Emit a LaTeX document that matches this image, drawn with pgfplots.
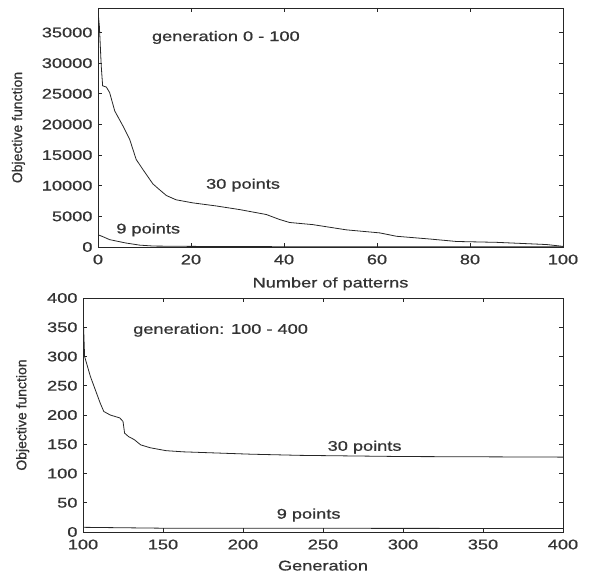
\documentclass[border=0pt]{standalone}
\usepackage{pgfplots}
\pgfplotsset{compat=1.18}
\usepackage{fontspec}
\setmainfont{Liberation Sans}[FakeStretch=1.3, FakeBold=0.8]
\newfontfamily\ylfont{Liberation Sans}[FakeBold=0.8]
\tikzset{curve/.style={black!85, line width=0.8pt}}
\begin{document}
\begin{tikzpicture}
\path (0pt,0pt) rectangle (594pt,573pt);
\pgfplotsset{
  every axis/.append style={
    scale only axis,
    anchor=south west,
    font=\fontsize{14}{16}\selectfont,
    tick align=inside,
    major tick length=4pt,
    axis line style={line width=0.8pt, black!85},
    every tick/.style={black!85, line width=0.6pt},
    scaled ticks=false,
    /pgf/number format/assume math mode=true,
    /pgf/number format/1000 sep={},
    ylabel style={font=\ylfont\fontsize{14}{16}\selectfont},
    xticklabel style={yshift=-4pt},
    yticklabel style={xshift=-2pt},
    color=black!80,
  }
}
% top panel
\begin{axis}[
  at={(98pt,326pt)}, width=465pt, height=239pt,
  xmin=0, xmax=100, ymin=0, ymax=39000,
  xtick={0,20,...,100},
  ytick={0,5000,...,35000},
  xlabel={Number of patterns},
  ylabel={Objective function},
  xlabel style={yshift=-6pt},
  ylabel style={yshift=10pt},
]
\addplot[curve] coordinates {(0,38500) (0.3,36000) (0.7,29500) (1,26300) (1.8,26100) (2.5,25200) (3.6,22200) (5.4,19700) (6.8,17600) (8.2,14300) (9.7,12600) (11.8,10300) (13,9500) (14.7,8400) (16.8,7700) (20.4,7200) (25.4,6700) (30.5,6100) (36.2,5300) (39,4500) (41.2,4000) (46.2,3650) (53.4,2800) (60.6,2300) (64.2,1750) (71.4,1300) (77.1,900) (85.7,760) (96.5,400) (100,100)};
\addplot[curve] coordinates {(0,2000) (1,1700) (2.5,1200) (6,650) (9,300) (12,150) (20,100) (40,50) (100,20)};
\node at (axis cs:27.5,34200) {generation 0 - 100};
\node at (axis cs:31.2,10100) {30 points};
\node at (axis cs:10.8,2800) {9 points};
\end{axis}
% bottom panel
\begin{axis}[
  at={(83pt,41pt)}, width=480pt, height=234pt,
  xmin=100, xmax=400, ymin=0, ymax=400,
  xtick={100,150,...,400},
  ytick={0,50,...,400},
  xlabel={Generation},
  ylabel={Objective function},
  xlabel style={yshift=-4pt},
  ylabel style={yshift=11pt},
]
\addplot[curve] coordinates {(100,375) (100.5,340) (101,300) (104.6,266) (107.7,243) (110.8,220) (113,206) (117,200) (123,195) (125,189) (126,169) (128.5,163) (132,158) (136,149) (142,144) (152,139) (163,137) (184,135) (205,133) (236,131) (300,129) (400,128)};
\addplot[curve] coordinates {(100,8) (150,6.5) (400,6)};
\node at (axis cs:186,345) {generation: 100 - 400};
\node at (axis cs:276,145) {30 points};
\node at (axis cs:241,29) {9 points};
\end{axis}
\end{tikzpicture}
\end{document}
